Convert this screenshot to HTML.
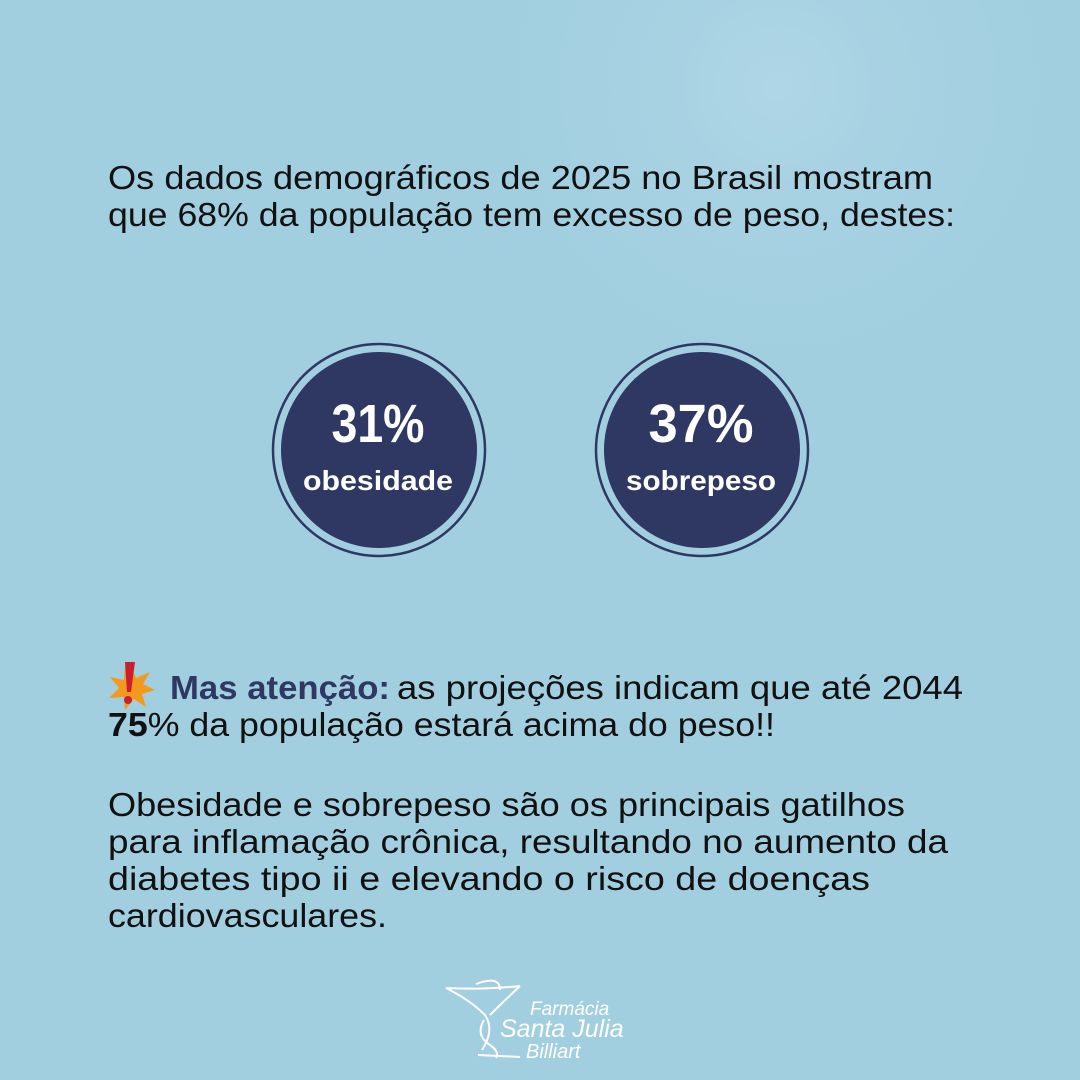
<!DOCTYPE html>
<html><head><meta charset="utf-8"><style>
html,body{margin:0;padding:0;background:#a2cfe0;}
svg{display:block}
text{font-family:"Liberation Sans",sans-serif;}
</style></head><body>
<svg width="1080" height="1080" viewBox="0 0 1080 1080" xmlns="http://www.w3.org/2000/svg">
<defs>
<radialGradient id="g1" cx="0.72" cy="0.08" r="0.3"><stop offset="0" stop-color="#afd6e6"/><stop offset="1" stop-color="#a2cfe0" stop-opacity="0"/></radialGradient>
</defs>
<rect width="1080" height="1080" fill="#a2cfe0"/>
<rect width="1080" height="1080" fill="url(#g1)"/>
<g fill="#111" font-size="33">
<text x="108" y="189" textLength="825" lengthAdjust="spacingAndGlyphs">Os dados demográficos de 2025 no Brasil mostram</text>
<text x="108" y="226" textLength="847" lengthAdjust="spacingAndGlyphs">que 68% da população tem excesso de peso, destes:</text>
</g>
<g>
<circle cx="379" cy="450" r="106" fill="none" stroke="#2e3862" stroke-width="2.5"/>
<circle cx="379" cy="450" r="98" fill="#2e3862"/>
<circle cx="702" cy="450" r="106" fill="none" stroke="#2e3862" stroke-width="2.5"/>
<circle cx="702" cy="450" r="98" fill="#2e3862"/>
<g fill="#fff" font-weight="bold" text-anchor="middle">
<text x="378" y="442" font-size="54" textLength="93" lengthAdjust="spacingAndGlyphs">31%</text>
<text x="378" y="490" font-size="28" textLength="150" lengthAdjust="spacingAndGlyphs">obesidade</text>
<text x="701" y="442" font-size="54" textLength="105" lengthAdjust="spacingAndGlyphs">37%</text>
<text x="701" y="490" font-size="28" textLength="150" lengthAdjust="spacingAndGlyphs">sobrepeso</text>
</g>
</g>
<g transform="translate(131,688)">
<polygon points="0,-22 5,-10 19,-16 12,-4 24,2 11,6 15,19 3,11 -6,22 -7,9 -22,10 -12,0 -21,-11 -7,-8 -6,-21" fill="#f39a1e"/>
<polygon points="-6,-26 4,-26 0,4 -4,4" fill="#c8202e"/>
<circle cx="-3" cy="12" r="4" fill="#c8202e"/>
</g>
<text x="170" y="699" font-size="33" font-weight="bold" fill="#2e3862" textLength="220" lengthAdjust="spacingAndGlyphs">Mas atenção:</text>
<g fill="#111" font-size="33">
<text x="397" y="699" textLength="566" lengthAdjust="spacingAndGlyphs">as projeções indicam que até 2044</text>
<text x="108" y="736" textLength="667" lengthAdjust="spacingAndGlyphs"><tspan font-weight="bold">75</tspan>% da população estará acima do peso!!</text>
<text x="108" y="816" textLength="797" lengthAdjust="spacingAndGlyphs">Obesidade e sobrepeso são os principais gatilhos</text>
<text x="108" y="853" textLength="840" lengthAdjust="spacingAndGlyphs">para inflamação crônica, resultando no aumento da</text>
<text x="108" y="890" textLength="762" lengthAdjust="spacingAndGlyphs">diabetes tipo ii e elevando o risco de doenças</text>
<text x="108" y="927" textLength="279" lengthAdjust="spacingAndGlyphs">cardiovasculares.</text>
</g>
<g fill="none" stroke="#fff" stroke-width="2">
<path d="M446,988 Q480,990 520,986 M446,988 Q470,1000 485,1015 Q495,1030 482,1050 M520,986 Q500,1005 490,1015 M476,984 Q500,975 500,990 M484,1020 Q475,1035 490,1045 Q500,1052 496,1058 M478,1055 L520,1057"/>
</g>
<g fill="#fff" font-style="italic">
<text x="530" y="1015" font-size="19">Farmácia</text>
<text x="500" y="1037" font-size="25">Santa Julia</text>
<text x="526" y="1058" font-size="20">Billiart</text>
</g>
</svg>
</body></html>
